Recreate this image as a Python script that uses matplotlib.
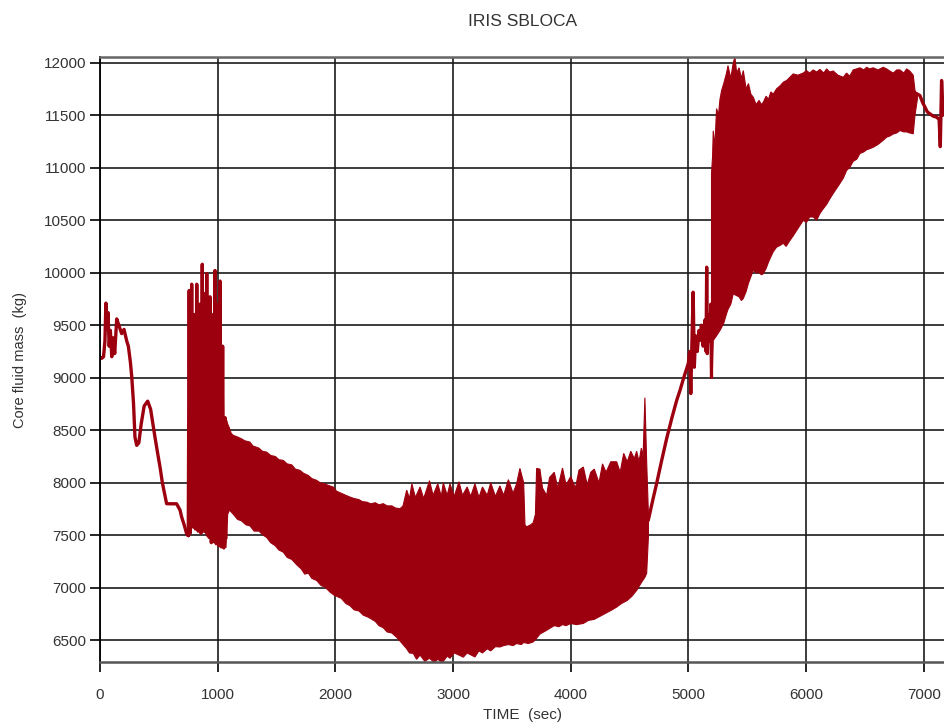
import matplotlib.pyplot as plt

# 曲線顏色
red = '#9c000f'

# 0 ~ 750 s 平滑段
smooth_t = [0, 15, 30, 42, 50, 58, 68, 78, 88, 100, 112, 125, 142, 160, 184, 204, 227, 241,
            258, 270, 285, 297, 312, 330, 350, 375, 405, 430, 467, 490, 510, 530, 566, 600,
            651, 680, 694, 715, 736, 750]
smooth_m = [9190, 9185, 9200, 9350, 9710, 9480, 9620, 9300, 9450, 9200, 9380, 9230, 9560,
            9500, 9420, 9460, 9350, 9300, 9150, 9006, 8750, 8435, 8356, 8380, 8560, 8730,
            8777, 8700, 8435, 8280, 8150, 8000, 7801, 7800, 7800, 7740, 7673, 7600, 7516, 7500]

# 750 ~ 1070 s 大幅振盪
spike_t = [750, 758, 766, 779, 790, 800, 811, 822, 834, 846, 858, 869, 880, 892, 900, 907,
           914, 921, 928, 935, 946, 958, 968, 977, 988, 1000, 1010, 1020, 1031, 1042, 1052,
           1062, 1070]
spike_m = [7500, 9830, 7520, 9890, 7580, 9600, 7560, 9890, 7540, 9700, 7520, 10080, 7540,
           9800, 7530, 9990, 7500, 9700, 7480, 9770, 7430, 9600, 7440, 10020, 7420, 9700,
           7400, 9920, 7390, 9300, 7380, 8620, 7480]

# 1070 ~ 4660 s 密集振盪帶：上包絡
band1_up_t = [1070, 1085, 1100, 1115, 1133, 1160, 1200, 1230, 1274, 1300, 1350, 1380, 1416,
              1450, 1490, 1520, 1557, 1590, 1630, 1660, 1699, 1730, 1770, 1800, 1841, 1870,
              1910, 1940, 1982, 2010, 2050, 2090, 2124, 2160, 2200, 2230, 2266, 2300, 2340,
              2370, 2407, 2440, 2480, 2510, 2549, 2575, 2606, 2630, 2650, 2680, 2720, 2750,
              2800, 2830, 2870, 2900, 2917, 2950, 2974, 3010, 3050, 3080, 3120, 3150, 3186,
              3220, 3250, 3290, 3320, 3360, 3398, 3430, 3470, 3510, 3540, 3568, 3600, 3611,
              3625, 3660, 3681, 3700, 3710, 3738, 3760, 3795, 3820, 3860, 3890, 3930, 3960,
              4000, 4040, 4070, 4107, 4140, 4170, 4200, 4240, 4270, 4300, 4340, 4390, 4420,
              4450, 4480, 4510, 4540, 4560, 4580, 4600, 4615, 4630, 4645, 4660]
band1_up_m = [8620, 8560, 8520, 8470, 8451, 8440, 8420, 8400, 8387, 8350, 8330, 8300, 8292,
              8260, 8250, 8220, 8213, 8180, 8170, 8130, 8118, 8090, 8070, 8040, 8023, 8000,
              7990, 7975, 7959, 7920, 7900, 7880, 7864, 7850, 7840, 7820, 7816, 7800, 7810,
              7790, 7801, 7780, 7780, 7760, 7753, 7780, 7930, 7850, 7990, 7860, 7960, 7850,
              8020, 7880, 7990, 7870, 8000, 7880, 7990, 7870, 8010, 7880, 7960, 7870, 7990,
              7860, 7960, 7880, 8000, 7870, 7970, 7880, 8030, 7900, 7990, 8137, 8000, 7600,
              7580, 7600, 7620, 7700, 8137, 8130, 7950, 7880, 8050, 8100, 7950, 8140, 7980,
              8060, 7950, 8120, 8150, 7980, 8100, 8130, 8000, 8180, 8100, 8200, 8200, 8100,
              8280, 8200, 8300, 8230, 8300, 8200, 8330, 8250, 8810, 8200, 7700]

# 1070 ~ 4660 s 密集振盪帶：下包絡
band1_lo_t = [1070, 1085, 1100, 1133, 1170, 1200, 1240, 1274, 1310, 1350, 1388, 1416, 1450,
              1490, 1520, 1557, 1590, 1630, 1671, 1710, 1740, 1770, 1800, 1841, 1880, 1910,
              1954, 1990, 2050, 2090, 2124, 2160, 2200, 2237, 2280, 2340, 2370, 2407, 2440,
              2480, 2520, 2560, 2606, 2630, 2662, 2690, 2720, 2760, 2800, 2840, 2870, 2900,
              2917, 2950, 2974, 3010, 3050, 3087, 3120, 3186, 3220, 3250, 3290, 3320, 3360,
              3398, 3430, 3470, 3510, 3540, 3580, 3600, 3640, 3681, 3710, 3738, 3770, 3795,
              3830, 3860, 3900, 3930, 3960, 4000, 4050, 4107, 4150, 4200, 4250, 4300, 4350,
              4390, 4430, 4480, 4520, 4560, 4600, 4630, 4645, 4660]
band1_lo_m = [7380, 7700, 7740, 7700, 7650, 7640, 7600, 7590, 7540, 7540, 7500, 7480, 7430,
              7400, 7360, 7340, 7290, 7270, 7220, 7180, 7130, 7140, 7090, 7070, 7020, 7010,
              6960, 6930, 6900, 6850, 6830, 6790, 6780, 6740, 6720, 6680, 6640, 6620, 6580,
              6570, 6530, 6480, 6420, 6380, 6376, 6320, 6360, 6300, 6330, 6290, 6320, 6294,
              6300, 6350, 6330, 6380, 6360, 6340, 6380, 6342, 6400, 6380, 6420, 6400, 6440,
              6437, 6450, 6460, 6450, 6470, 6460, 6480, 6470, 6485, 6520, 6560, 6580, 6596,
              6620, 6640, 6630, 6650, 6640, 6660, 6650, 6661, 6690, 6700, 6730, 6760, 6790,
              6817, 6850, 6880, 6920, 6976, 7050, 7100, 7138, 7490]

# 4660 ~ 5200 s 回升段
rise_t = [4660, 4700, 4730, 4770, 4815, 4860, 4900, 4928, 4960, 4999, 5010, 5020, 5030,
          5040, 5050, 5060, 5075, 5090, 5098, 5110, 5125, 5140, 5150, 5155, 5160, 5170,
          5180, 5190, 5196]
rise_m = [7650, 7850, 7994, 8200, 8422, 8620, 8784, 8879, 9000, 9136, 9250, 8850, 9350,
          9814, 9100, 9400, 9250, 9450, 9355, 9500, 9300, 9550, 9250, 10052, 9230, 9600,
          9350, 9700, 9005]

# 5196 ~ 6945 s 第二段振盪帶：上包絡
band2_up_t = [5196, 5205, 5211, 5225, 5239, 5255, 5268, 5282, 5300, 5324, 5336, 5360, 5381,
              5395, 5410, 5430, 5450, 5466, 5490, 5510, 5530, 5551, 5575, 5600, 5620, 5636,
              5660, 5680, 5700, 5721, 5749, 5780, 5806, 5835, 5862, 5890, 5930, 5975, 6004,
              6030, 6060, 6090, 6117, 6150, 6174, 6200, 6230, 6270, 6316, 6344, 6370, 6400,
              6430, 6457, 6490, 6514, 6540, 6570, 6610, 6655, 6684, 6710, 6740, 6770, 6797,
              6830, 6854, 6880, 6910, 6925, 6945]
band2_up_m = [10944, 11100, 11350, 11200, 11562, 11500, 11650, 11734, 11800, 11900, 11971,
              11850, 12000, 12050, 11900, 11950, 11850, 11924, 11750, 11800, 11700, 11670,
              11600, 11640, 11600, 11622, 11680, 11650, 11720, 11700, 11750, 11780, 11813,
              11830, 11860, 11892, 11880, 11900, 11924, 11900, 11930, 11910, 11935, 11900,
              11940, 11910, 11920, 11880, 11860, 11900, 11870, 11930, 11940, 11950, 11930,
              11955, 11940, 11950, 11930, 11955, 11940, 11920, 11900, 11930, 11930, 11900,
              11940, 11920, 11880, 11734, 11700]

# 5196 ~ 6945 s 第二段振盪帶：下包絡
band2_lo_t = [5196, 5205, 5211, 5239, 5268, 5282, 5300, 5324, 5336, 5360, 5381, 5395, 5430,
              5450, 5466, 5490, 5510, 5530, 5551, 5575, 5600, 5620, 5636, 5660, 5680, 5700,
              5721, 5749, 5780, 5806, 5830, 5862, 5890, 5930, 5975, 6004, 6030, 6060, 6090,
              6117, 6140, 6174, 6200, 6230, 6270, 6316, 6344, 6370, 6400, 6430, 6457, 6490,
              6514, 6540, 6570, 6610, 6655, 6684, 6710, 6740, 6770, 6797, 6830, 6854, 6880,
              6910, 6925, 6945]
band2_lo_m = [9005, 9100, 9355, 9400, 9450, 9480, 9520, 9610, 9650, 9700, 9800, 9790, 9770,
              9735, 9754, 9820, 9900, 9960, 10021, 10000, 10000, 9980, 9990, 10040, 10100,
              10150, 10200, 10243, 10260, 10280, 10250, 10306, 10350, 10420, 10497, 10480,
              10530, 10530, 10500, 10563, 10600, 10650, 10700, 10754, 10820, 10900, 10973,
              11000, 11060, 11080, 11134, 11150, 11170, 11180, 11194, 11220, 11260, 11290,
              11300, 11320, 11330, 11353, 11340, 11340, 11330, 11322, 11500, 11650]

# 6945 s 之後
end_t = [6945, 6967, 6990, 7010, 7030, 7052, 7080, 7109, 7130, 7140, 7151, 7165, 7180]
end_m = [11700, 11686, 11620, 11575, 11530, 11512, 11490, 11480, 11460, 11200, 11829,
         11500, 11600]

x_ticks = [0, 1000, 2000, 3000, 4000, 5000, 6000, 7000]
y_ticks = [6500, 7000, 7500, 8000, 8500, 9000, 9500, 10000, 10500, 11000, 11500, 12000]

plt.rcParams['font.family'] = ['Liberation Sans', 'DejaVu Sans']

fig = plt.figure(figsize=(9.45, 7.27), dpi=100)
ax = fig.add_axes([100 / 945, 65 / 727, 845 / 945, 605 / 727])

# 畫曲線
ax.plot(smooth_t, smooth_m, color=red, lw=2.4)
ax.plot(spike_t, spike_m, color=red, lw=2.4)
ax.fill(band1_up_t + band1_lo_t[::-1], band1_up_m + band1_lo_m[::-1],
        color=red, lw=0.8)
ax.plot(rise_t, rise_m, color=red, lw=2.4)
ax.fill(band2_up_t + band2_lo_t[::-1], band2_up_m + band2_lo_m[::-1],
        color=red, lw=0.8)
ax.plot(end_t, end_m, color=red, lw=2.4)

# 軸範圍與格線
ax.set_xlim(0, 7180)
ax.set_ylim(6294, 12053)
ax.set_xticks(x_ticks)
ax.set_yticks(y_ticks)
ax.grid(True, color='#1a1a1a', lw=1.4, alpha=0.85)
ax.set_axisbelow(True)

ax.spines['right'].set_visible(False)
ax.spines['left'].set_color('black')
ax.spines['left'].set_linewidth(1.3)
ax.spines['top'].set_color('#666666')
ax.spines['top'].set_linewidth(1.8)
ax.spines['bottom'].set_color('#555555')
ax.spines['bottom'].set_linewidth(1.8)

ax.tick_params(axis='y', direction='out', length=7, width=1.2, pad=3,
               labelsize=11, labelcolor='#333333')
ax.tick_params(axis='x', direction='out', length=7, width=1.2, pad=12,
               labelsize=11, labelcolor='#333333')

# 標籤
ax.set_title('IRIS SBLOCA', fontsize=12.5, color='#333333', pad=22)
ax.set_xlabel('TIME  (sec)', fontsize=11, color='#333333', labelpad=4)
ax.set_ylabel('Core fluid mass  (kg)', fontsize=10.5, color='#333333', labelpad=12)

fig.savefig('out.png', dpi=100)
